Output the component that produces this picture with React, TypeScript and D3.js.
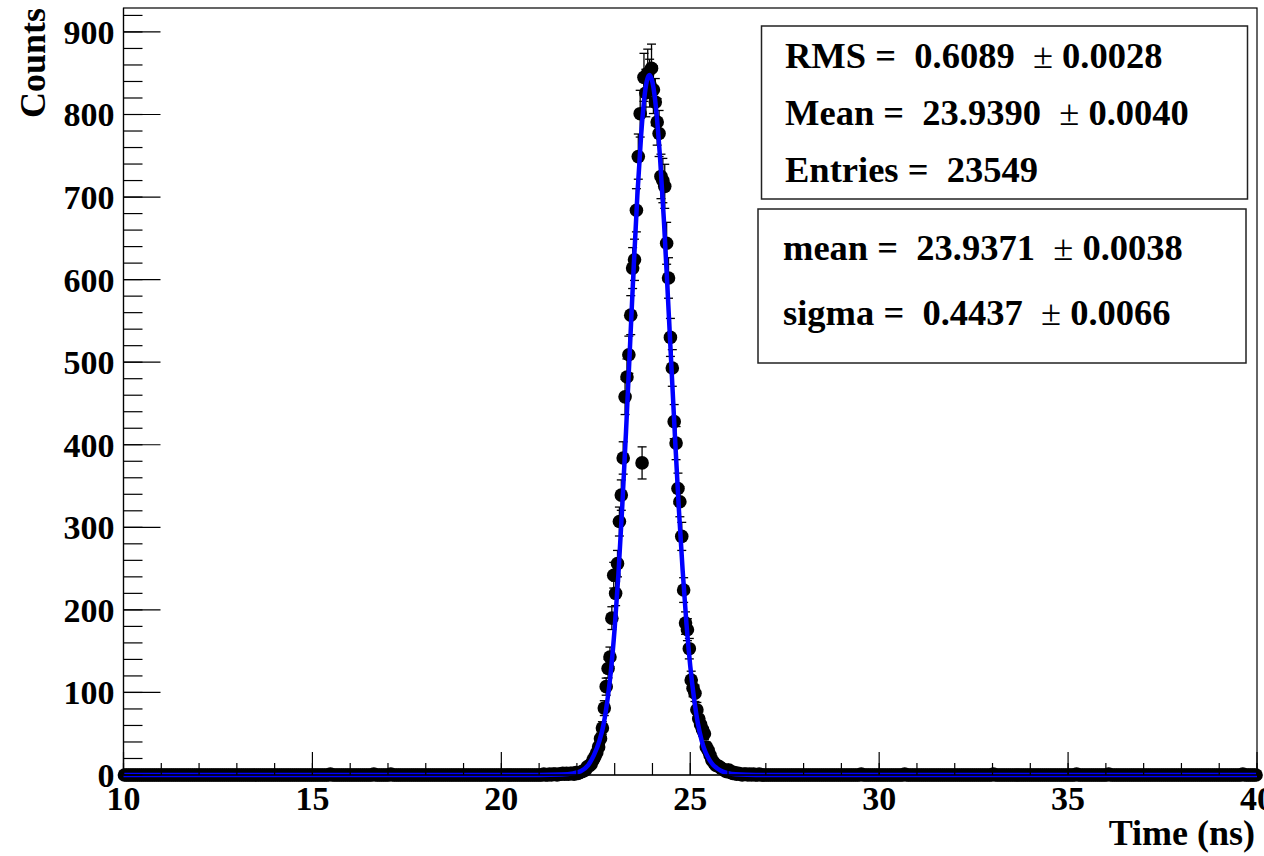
import React from "react";
import * as d3 from "d3";

// ---- histogram binning (bin width 0.05 ns over 10..40 ns) ----
const binStart = 10;
const binEnd = 40;
const binWidth = 0.05;

// counts of the bins whose centres run from 21.025 ns to 26.975 ns
const peakFirstCenter = 21.025;
const peakCounts = [
  0, 0, 1, 0, 0, 1, 0, 1, 1, 0,
  1, 1, 2, 1, 2, 1, 2, 2, 1, 3,
  2, 3, 4, 5, 6, 10, 11, 13, 18, 22,
  27, 34, 44, 57, 81, 107, 129, 143, 190, 242,
  220, 256, 307, 339, 384, 458, 482, 509, 557, 614,
  624, 684, 749, 801, 378, 845, 826, 850, 838, 856,
  830, 815, 791, 777, 725, 720, 713, 644, 602, 530,
  493, 428, 402, 347, 331, 289, 224, 184, 176, 153,
  115, 105, 99, 79, 68, 61, 55, 50, 34, 30,
  24, 18, 15, 12, 11, 10, 8, 7, 5, 4,
  6, 3, 2, 3, 1, 2, 1, 0, 1, 1,
  0, 1, 0, 1, 0, 0, 1, 0, 0, 0,
];

// isolated single entries far from the peak
const tailCenters = [15.475, 16.625, 17.075, 29.525, 30.675, 33.025, 35.225, 36.075, 39.625];
const tailCounts = [1, 1, 1, 1, 1, 1, 1, 1, 1];

// Gaussian fit curve
const fitTimes = [
  10, 21.0, 21.6, 21.9, 22.1, 22.3, 22.45, 22.6, 22.7, 22.8, 22.9, 23.0, 23.1, 23.2, 23.3,
  23.4, 23.5, 23.6, 23.7, 23.8, 23.92, 24.0, 24.1, 24.2, 24.3, 24.4, 24.5, 24.6, 24.7,
  24.8, 24.9, 25.0, 25.1, 25.2, 25.3, 25.4, 25.5, 25.6, 25.7, 25.8, 25.9, 26.0, 26.2,
  26.5, 27.0, 40,
];
const fitCounts = [
  0, 0, 0.5, 2, 4.5, 12, 24, 42, 60, 88, 126, 178, 244, 325, 416,
  514, 612, 702, 775, 826, 848, 839, 805, 748, 674, 587, 496, 406, 321,
  247, 183, 132, 93, 63, 42, 28, 19, 12.5, 8.5, 5.5, 3.5, 2.2, 0.8,
  0.2, 0, 0,
];

const xTitle = "Time (ns)";
const yTitle = "Counts";
const statsBox1 = [
  ["RMS =  0.6089  ", "\u00b1", " 0.0028"],
  ["Mean =  23.9390  ", "\u00b1", " 0.0040"],
  ["Entries =  23549", "", ""],
];
const statsBox2 = [
  ["mean =  23.9371  ", "\u00b1", " 0.0038"],
  ["sigma =  0.4437  ", "\u00b1", " 0.0066"],
];

const W = 1264;
const H = 856;
const FONT = "'Liberation Serif', 'Times New Roman', serif";

export default function App() {
  const x = d3.scaleLinear().domain([binStart, binEnd]).range([123.5, 1257]);
  const y = d3.scaleLinear().domain([0, 929]).range([775, 8]);

  const nBins = Math.round((binEnd - binStart) / binWidth);
  const counts: number[] = new Array(nBins).fill(0);
  const idxOf = (c: number) => Math.round((c - binStart) / binWidth - 0.5);
  peakCounts.forEach((v, i) => {
    counts[idxOf(peakFirstCenter + i * binWidth)] = v;
  });
  tailCenters.forEach((c, i) => {
    counts[idxOf(c)] = tailCounts[i];
  });
  const bins = counts.map((v, i) => ({ c: binStart + (i + 0.5) * binWidth, v }));

  const fitLine = d3
    .line<number>()
    .x((_, i) => x(fitTimes[i]))
    .y((d) => y(d))
    .curve(d3.curveMonotoneX);

  const xMajor = x.ticks(6);
  const xMinor = x.ticks(30);
  const yMajor = y.ticks(10);
  const yMinor = d3.range(0, 929, 20);

  const x0 = x.range()[0];
  const x1 = x.range()[1];
  const y0 = y.range()[0];
  const yTop = y.range()[1];

  const capHalf = 4.5;

  return (
    <svg
      width={W}
      height={H}
      style={{ position: "fixed", left: 0, top: 0, background: "#fff" }}
      fontFamily={FONT}
    >
      <rect x={0} y={0} width={W} height={H} fill="#fff" />

      {/* error bars */}
      <g stroke="#000" strokeWidth={1.3}>
        {bins
          .filter((b) => b.v > 0)
          .map((b, i) => {
            const e = Math.sqrt(b.v);
            const cx = x(b.c);
            return (
              <g key={i}>
                <line x1={cx} x2={cx} y1={y(b.v - e)} y2={y(b.v + e)} />
                <line x1={cx - capHalf} x2={cx + capHalf} y1={y(b.v + e)} y2={y(b.v + e)} />
                <line x1={cx - capHalf} x2={cx + capHalf} y1={y(b.v - e)} y2={y(b.v - e)} />
              </g>
            );
          })}
      </g>

      {/* markers */}
      <g fill="#000">
        {bins.map((b, i) => (
          <circle key={i} cx={x(b.c)} cy={y(b.v)} r={6.8} />
        ))}
      </g>

      {/* fit */}
      <path d={fitLine(fitCounts) || ""} fill="none" stroke="#0000ff" strokeWidth={4.5} strokeLinejoin="round" />

      {/* x axis */}
      <line x1={x0} x2={x1} y1={y0} y2={y0} stroke="#000" strokeWidth={1.2} />
      {xMinor.map((t) => (
        <line key={"xm" + t} x1={x(t)} x2={x(t)} y1={y0} y2={y0 - 12} stroke="#000" strokeWidth={1.2} />
      ))}
      {xMajor.map((t) => (
        <line key={"xM" + t} x1={x(t)} x2={x(t)} y1={y0} y2={y0 - 23} stroke="#000" strokeWidth={1.2} />
      ))}
      {xMajor.map((t) => (
        <text key={"xl" + t} x={x(t)} y={810} textAnchor="middle" fontSize={34} fontWeight="bold">
          {String(t)}
        </text>
      ))}
      <text x={1255} y={845} textAnchor="end" fontSize={36} fontWeight="bold">
        {xTitle}
      </text>

      {/* y axis */}
      <line x1={x0} x2={x0} y1={y0} y2={yTop} stroke="#000" strokeWidth={1.2} />
      {yMinor.map((t) => (
        <line key={"ym" + t} x1={x0} x2={x0 + 19} y1={y(t)} y2={y(t)} stroke="#000" strokeWidth={1.2} />
      ))}
      {yMajor.map((t) => (
        <line key={"yM" + t} x1={x0} x2={x0 + 37} y1={y(t)} y2={y(t)} stroke="#000" strokeWidth={1.2} />
      ))}
      {yMajor.map((t) => (
        <text
          key={"yl" + t}
          x={x0 - 9}
          y={y(t)}
          dy="0.35em"
          textAnchor="end"
          fontSize={34}
          fontWeight="bold"
        >
          {String(t)}
        </text>
      ))}
      <text
        transform={`translate(45, ${yTop}) rotate(-90)`}
        textAnchor="end"
        fontSize={36}
        fontWeight="bold"
      >
        {yTitle}
      </text>

      {/* frame */}
      <rect x={x0} y={yTop} width={x1 - x0} height={y0 - yTop} fill="none" stroke="#000" strokeWidth={1.2} />

      {/* stats box 1 */}
      <rect x={761.5} y={26} width={486} height={173} fill="#fff" stroke="#222" strokeWidth={1.5} />
      {statsBox1.map((l, i) => (
        <text key={"s1" + i} x={785} y={68 + i * 57} fontSize={36.5} fontWeight="bold" style={{ whiteSpace: "pre" }}>
          {l[0]}
          <tspan fontWeight="normal">{l[1]}</tspan>
          {l[2]}
        </text>
      ))}
      {/* stats box 2 */}
      <rect x={758} y={209} width={488} height={154} fill="#fff" stroke="#222" strokeWidth={1.5} />
      {statsBox2.map((l, i) => (
        <text key={"s2" + i} x={783} y={260 + i * 65} fontSize={36.5} fontWeight="bold" style={{ whiteSpace: "pre" }}>
          {l[0]}
          <tspan fontWeight="normal">{l[1]}</tspan>
          {l[2]}
        </text>
      ))}
    </svg>
  );
}
